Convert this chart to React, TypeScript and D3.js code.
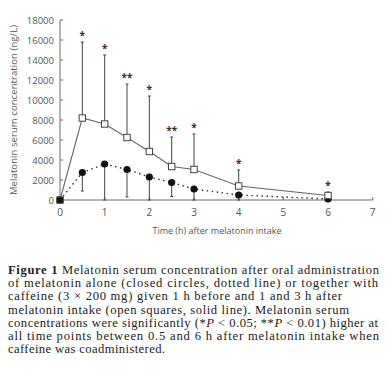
import React from "react";
import * as d3 from "d3";

const times = [0, 0.5, 1, 1.5, 2, 2.5, 3, 4, 6];
const caffeineMean = [0, 8200, 7600, 6250, 4850, 3350, 3050, 1400, 450];
const caffeineUpper = [0, 15800, 14500, 11600, 10400, 6300, 6600, 3000, 800];
const aloneMean = [0, 2750, 3600, 3050, 2300, 1750, 1100, 500, 100];
const aloneLower = [0, 900, 0, 300, 0, 350, 0, 0, 0];
const stars = ["", "*", "*", "**", "*", "**", "*", "*", "*"];
const xTicks = [0, 1, 2, 3, 4, 5, 6, 7];
const yTicks = [0, 2000, 4000, 6000, 8000, 10000, 12000, 14000, 16000, 18000];
// segments: [text, style] where style: "b" bold, "i" italic, "" normal
const captionLines: { segs: [string, string][]; width: number }[] = [
  { segs: [["Figure 1", "b"], ["  Melatonin serum concentration after oral administration", ""]], width: 371 },
  { segs: [["of melatonin alone (closed circles, dotted line) or together with", ""]], width: 370 },
  { segs: [["caffeine (3 × 200 mg) given 1 h before and 1 and 3 h after", ""]], width: 334 },
  { segs: [["melatonin intake (open squares, solid line). Melatonin serum", ""]], width: 341 },
  {
    segs: [
      ["concentrations were significantly (*", ""],
      ["P", "i"],
      [" < 0.05; **", ""],
      ["P", "i"],
      [" < 0.01) higher at", ""],
    ],
    width: 370,
  },
  { segs: [["all time points between 0.5 and 6 h after melatonin intake when", ""]], width: 371 },
  { segs: [["caffeine was coadministered.", ""]], width: 157 },
];

export default function App() {
  const x = d3.scaleLinear().domain([0, 7]).range([60, 372.7]);
  const y = d3.scaleLinear().domain([0, 18000]).range([200, 20]);
  const axisColor = "#6a6a6a";
  const sans = "'Open Sans', 'DejaVu Sans', sans-serif";
  const serif = "'Liberation Serif', 'DejaVu Serif', serif";

  const lineC = d3.line<number>().x((_, i) => x(times[i])).y((v) => y(v));
  const s = 3.2;

  return (
    <svg width={388} height={377} style={{ position: "absolute", left: 0, top: 0, background: "#fff" }}>
      {/* axes */}
      <line x1={x(0)} x2={x(7)} y1={y(0)} y2={y(0)} stroke={axisColor} strokeWidth={1} />
      <line x1={x(0)} x2={x(0)} y1={y(0)} y2={y(18000)} stroke={axisColor} strokeWidth={1} />
      {xTicks.map((t) => (
        <g key={"xt" + t}>
          <line x1={x(t)} x2={x(t)} y1={y(0)} y2={y(0) - 3} stroke={axisColor} />
          <text x={x(t)} y={y(0) + 16} textAnchor="middle" fontSize={10} fill="#555" fontFamily={sans}>{t}</text>
        </g>
      ))}
      {yTicks.map((t) => (
        <g key={"yt" + t}>
          <line x1={x(0)} x2={x(0) + 3} y1={y(t)} y2={y(t)} stroke={axisColor} />
          <text x={x(0) - 6} y={y(t) + 3.5} textAnchor="end" fontSize={9.5} fill="#555" fontFamily={sans}>{t}</text>
        </g>
      ))}
      <text transform={`translate(17,${(y(0) + y(18000)) / 2}) rotate(-90)`} textAnchor="middle" fontSize={9.5} fill="#5a5a5a" fontFamily={sans} textLength={170} lengthAdjust="spacing">
        Melatonin serum concentration (ng/L)
      </text>
      <text x={217} y={234} textAnchor="middle" fontSize={9} fill="#555" fontFamily={sans}>
        Time (h) after melatonin intake
      </text>

      {/* error bars caffeine (up) */}
      {times.map((t, i) =>
        caffeineUpper[i] > caffeineMean[i] ? (
          <g key={"ec" + i} stroke="#444" strokeWidth={1}>
            <line x1={x(t)} x2={x(t)} y1={y(caffeineMean[i])} y2={y(caffeineUpper[i])} />
            <line x1={x(t) - 1.5} x2={x(t) + 1.5} y1={y(caffeineUpper[i])} y2={y(caffeineUpper[i])} />
          </g>
        ) : null
      )}
      {/* error bars alone (down) */}
      {times.map((t, i) =>
        aloneMean[i] > aloneLower[i] ? (
          <g key={"ea" + i} stroke="#444" strokeWidth={1}>
            <line x1={x(t)} x2={x(t)} y1={y(aloneMean[i])} y2={y(aloneLower[i])} />
            <line x1={x(t) - 1.5} x2={x(t) + 1.5} y1={y(aloneLower[i])} y2={y(aloneLower[i])} />
          </g>
        ) : null
      )}

      {/* lines */}
      <path d={lineC(aloneMean) || ""} fill="none" stroke="#333" strokeWidth={1.4} strokeDasharray="1.5,3.5" />
      <path d={lineC(caffeineMean) || ""} fill="none" stroke="#666" strokeWidth={1.1} />

      {/* markers */}
      {times.map((t, i) => (
        <circle key={"ca" + i} cx={x(t)} cy={y(aloneMean[i])} r={3.6} fill="#111" />
      ))}
      {times.map((t, i) => (
        <rect key={"sq" + i} x={x(t) - s} y={y(caffeineMean[i]) - s} width={2 * s} height={2 * s} fill={i === 0 ? "#111" : "#fff"} stroke="#444" strokeWidth={1} />
      ))}

      {/* stars */}
      {times.map((t, i) =>
        stars[i] ? (
          <text key={"st" + i} x={x(t)} y={y(caffeineUpper[i]) - 3} textAnchor="middle" fontSize={10} fill="#333" fontFamily={sans} fontWeight="bold">
            {stars[i]}
          </text>
        ) : null
      )}

      {/* caption */}
      {captionLines.map((l, i) => (
        <text
          key={"cap" + i}
          x={8}
          y={274 + i * 13.2}
          fontSize={12.6}
          fill="#222"
          fontFamily={serif}
          textLength={l.width}
          lengthAdjust="spacing"
        >
          {l.segs.map(([txt, st], j) => (
            <tspan key={j} fontWeight={st === "b" ? "bold" : undefined} fontStyle={st === "i" ? "italic" : undefined}>
              {txt}
            </tspan>
          ))}
        </text>
      ))}
    </svg>
  );
}
